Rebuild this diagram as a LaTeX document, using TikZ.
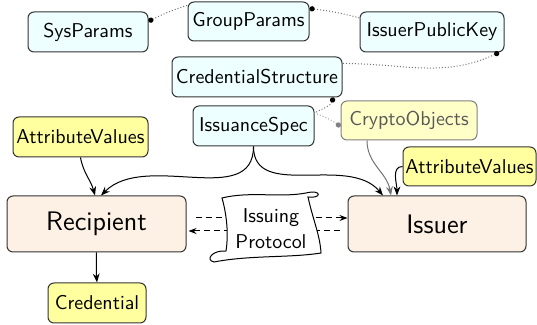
\documentclass[tikz,border=0pt]{standalone}
\usetikzlibrary{arrows.meta,calc}
\definecolor{cyanfill}{RGB}{238,255,255}
\definecolor{yellowfill}{RGB}{255,255,160}
\definecolor{peachfill}{RGB}{253,240,228}
\definecolor{cryptofill}{RGB}{255,255,200}
\begin{document}
\begin{tikzpicture}[x=0.5pt,y=0.5pt,
  box/.style={draw=black!80, line width=0.5pt, rounded corners=3pt, inner sep=0pt, font=\sffamily},
  cbox/.style={box, fill=cyanfill},
  ybox/.style={box, fill=yellowfill},
  pbox/.style={box, fill=peachfill, font=\sffamily\fontsize{13.4}{16}\selectfont},
  gbox/.style={box, draw=black!50, fill=cryptofill, text=black!65},
  link/.style={black!55, densely dotted, line width=0.5pt, {Circle[length=2.6pt,color=black]}-},
  glink/.style={black!35, densely dotted, line width=0.5pt, {Circle[length=2.6pt,color=black!50]}-},
  arr/.style={-{Stealth[length=4.5pt,width=3.4pt]}, line width=0.5pt},
  garr/.style={arr, draw=black!55},
  dsh/.style={dash pattern=on 3pt off 2pt, line width=0.5pt, -{Stealth[length=4pt,width=3pt]}},
]
\useasboundingbox (0,0) rectangle (537,-325);

\node[cbox, minimum width=60pt, minimum height=20pt] (sys) at (88,-32) {SysParams};
\node[cbox, minimum width=60.5pt, minimum height=19.5pt] (grp) at (248.5,-21.5) {GroupParams};
\node[cbox, minimum width=72pt, minimum height=20pt] (ipk) at (432,-32) {IssuerPublicKey};
\node[cbox, minimum width=85pt, minimum height=20pt] (cs) at (257,-77) {CredentialStructure};
\node[cbox, minimum width=60.5pt, minimum height=20pt] (is) at (253.5,-126) {IssuanceSpec};
\node[gbox, minimum width=68pt, minimum height=19.5pt] (co) at (409,-120.5) {CryptoObjects};
\node[ybox, minimum width=67.5pt, minimum height=20pt] (avl) at (80.5,-137) {AttributeValues};
\node[ybox, minimum width=66.5pt, minimum height=19.5pt] (avr) at (469.5,-166.5) {AttributeValues};
\node[pbox, minimum width=89.5pt, minimum height=28pt] (rec) at (96.5,-224) {Recipient};
\node[pbox, minimum width=89pt, minimum height=28pt] (iss) at (437,-224) {Issuer};
\node[ybox, minimum width=49pt, minimum height=20pt] (cred) at (97,-303) {Credential};

% dotted links
\draw[link] (sys.10) to[bend left=4] (grp.165);
\draw[link] (grp.12) to[bend left=4] (ipk.169);
\draw[link] (ipk.-17) to[out=-155,in=0] (cs.9);
\draw[link] (cs.-15) to[out=-110,in=30] (is.12);
\draw[glink] (co.185) to[bend right=8] (is.12);

% solid arrows
\draw[arr] (avl.south) to[out=-80,in=105] ($(rec.north)+(-1.5,0)$);
\draw[arr] (is.south) to[out=-90,in=45] ($(rec.north)+(4.5,0)$);
\draw[arr] (is.south) to[out=-90,in=130] ($(iss.north)+(-54,0)$);
\draw[garr] ($(co.south)+(-42,0)$) to[out=-90,in=100] ($(iss.north)+(-46,0)$);
\draw[arr] (avr.west) to[out=180,in=90] ($(iss.north)+(-40,0)$);
\draw[arr] (rec.south) to[out=-90,in=95] (cred.north);

% issuing protocol
\draw[dsh] ($(rec.east)+(9,6)$) -- ($(iss.west)+(0,6)$);
\draw[dsh] ($(iss.west)+(-8,-7)$) -- ($(rec.east)+(2,-7)$);
\coordinate (pc) at (265,-229);
\begin{scope}[shift={(pc)}]
\draw[fill=white, line width=0.5pt]
  (-43,31) .. controls (-15,38) and (15,31) .. (41,36)
  .. controls (57,40) and (57,30) .. (43,32)
  .. controls (48,9) and (55,-6) .. (56,-24)
  .. controls (25,-29) and (-15,-26) .. (-51,-33)
  .. controls (-60,-31) and (-53,-21) .. (-39,-22)
  .. controls (-36,-3) and (-39,17) .. cycle;
\end{scope}
\node[font=\sffamily, align=center, inner sep=0pt] (proto) at (271,-229) {Issuing\\[1pt]Protocol};
\end{tikzpicture}
\end{document}
